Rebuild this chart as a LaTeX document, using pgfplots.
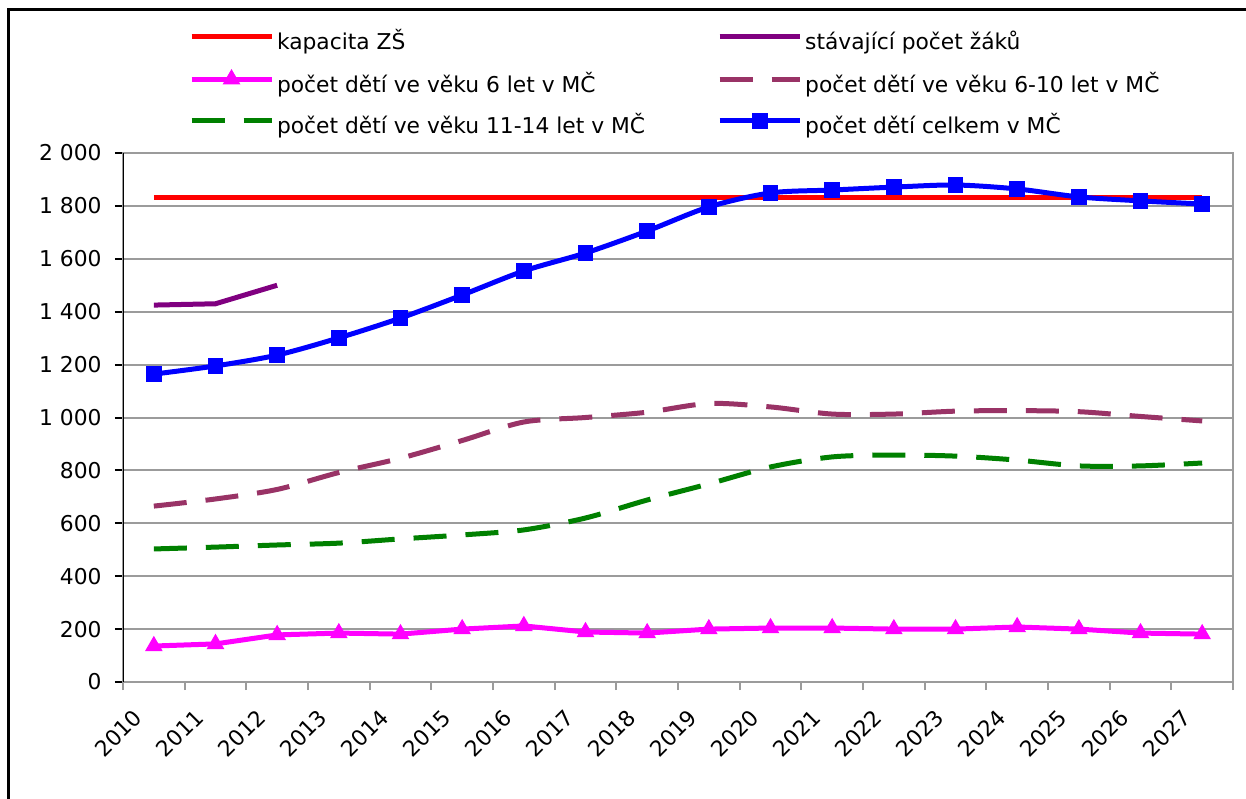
\documentclass[border=0pt]{standalone}
\usepackage{fontspec}
\setmainfont{DejaVu Sans}
\usepackage{pgfplots}
\usepackage{pgfplotstable}
\pgfplotsset{compat=1.18}
\definecolor{cred}{RGB}{255,0,0}
\definecolor{cpurple}{RGB}{128,0,128}
\definecolor{cmag}{RGB}{255,0,255}
\definecolor{cplum}{RGB}{153,51,102}
\definecolor{cgreen}{RGB}{0,128,0}
\definecolor{cblue}{RGB}{0,0,255}
\definecolor{cgrid}{RGB}{155,155,155}

\pgfplotstableread{
x kap six sixten eleven total
0 1830 136 665 503 1164
1 1830 144 692 510 1195
2 1830 178 728 518 1236
3 1830 185 792 525 1301
4 1830 181 846 541 1376
5 1830 200 913 556 1463
6 1830 212 983 575 1554
7 1830 189 1000 620 1622
8 1830 185 1020 688 1705
9 1830 200 1053 749 1796
10 1830 204 1040 813 1849
11 1830 204 1013 851 1860
12 1830 200 1013 858 1871
13 1830 200 1024 854 1879
14 1830 208 1026 839 1864
15 1830 200 1022 817 1834
16 1830 185 1004 817 1819
17 1830 181 987 828 1807
}\maindata

\pgfplotstableread{
x cur
0 1425
1 1430
2 1500
}\curdata

\begin{document}
\begin{tikzpicture}
\path[use as bounding box] (0,0) rectangle (623pt,399pt);
\draw[line width=1.5pt] (4pt,-5pt) -- (4pt,394pt) -- (630pt,394pt);
\begin{axis}[
  at={(61.5pt,58pt)}, anchor=south west,
  scale only axis, width=555pt, height=264.5pt,
  xmin=-0.5, xmax=17.5, ymin=0, ymax=2000,
  xtick={0,...,17},
  xticklabels={2010,2011,2012,2013,2014,2015,2016,2017,2018,2019,2020,2021,2022,2023,2024,2025,2026,2027},
  major x tick style={draw=none},
  minor xtick={-0.5,0.5,...,17.5},
  minor x tick style={cgrid, line width=1pt},
  minor tick length=4pt,
  major tick length=4pt,
  ytick={0,200,...,2000},
  yticklabels={0,200,400,600,800,1\ 000,1\ 200,1\ 400,1\ 600,1\ 800,2\ 000},
  tick align=outside, tick pos=left,
  ytick style={black, line width=1pt},
  ymajorgrids, grid style={cgrid, line width=1pt},
  axis line style={cgrid, line width=1pt},
  tick label style={font=\fontsize{10.9}{12}\selectfont},
  xticklabel style={xshift=-5pt, rotate=45, anchor=base east, inner sep=0pt},
  xticklabel shift=14.5pt,
  yticklabel style={anchor=east, inner sep=0pt, xshift=-6.5pt},
  legend columns=2,
  legend cell align=left,
  legend image code/.code={\draw[mark repeat=2, mark phase=2, #1] plot coordinates {(0pt,3.5pt) (20pt,3.5pt) (40pt,3.5pt)};},
  legend style={at={(axis description cs:0.05946,1.2287)}, anchor=north west,
    draw=none, fill=none, inner sep=0pt, outer sep=0pt, row sep=8pt,
    font=\fontsize{10.9}{12}\selectfont,
    nodes={inner sep=0pt, text height=8.5pt, text depth=2.5pt},
    /tikz/every odd column/.append style={column sep=1.5pt},
    /tikz/every even column/.append style={column sep=36pt}},
]
\addplot[cred, line width=2.5pt, no markers] table[x=x, y=kap] {\maindata};
\addlegendentry{kapacita ZŠ}
\addplot[cpurple, line width=2.5pt, no markers] table[x=x, y=cur] {\curdata};
\addlegendentry{stávající počet žáků}
\addplot[cmag, line width=2.5pt, mark=triangle*, mark size=4.6pt, mark options={solid, fill=cmag, line width=0.5pt}] table[x=x, y=six] {\maindata};
\addlegendentry{počet dětí ve věku 6 let v MČ}
\addplot[cplum, line width=2.5pt, no markers, smooth, dash pattern=on 16.5pt off 9.5pt] table[x=x, y=sixten] {\maindata};
\addlegendentry{počet dětí ve věku 6-10 let v MČ}
\addplot[cgreen, line width=2.5pt, no markers, smooth, dash pattern=on 16.5pt off 9.5pt] table[x=x, y=eleven] {\maindata};
\addlegendentry{počet dětí ve věku 11-14 let v MČ}
\addplot[cblue, line width=2.5pt, smooth, mark=square*, mark size=3.7pt, mark options={solid, fill=cblue, line width=0.5pt}] table[x=x, y=total] {\maindata};
\addlegendentry{počet dětí celkem v MČ}
\draw[black, line width=1pt] (rel axis cs:0,0) -- (rel axis cs:0,1);
\end{axis}
\end{tikzpicture}
\end{document}
